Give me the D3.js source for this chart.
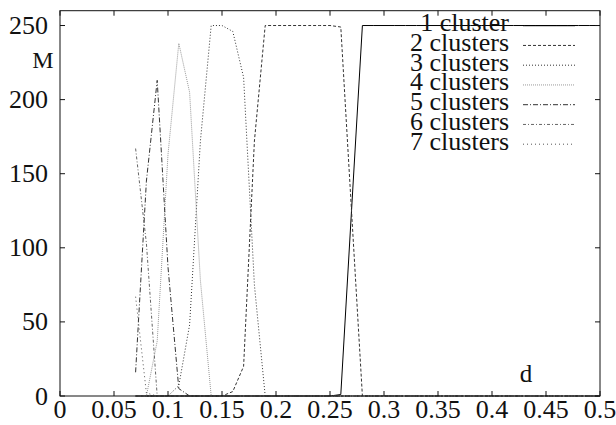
<!DOCTYPE html>
<html><head><meta charset="utf-8">
<script src="https://cdn.jsdelivr.net/npm/d3@7/dist/d3.min.js"></script>
<style>body{margin:0;background:#fff}svg{display:block}</style>
</head><body><svg id="c" width="616" height="425"></svg>
<script>
// ---- data ----
const dValues = [0.07,0.08,0.09,0.10,0.11,0.12,0.13,0.14,0.15,0.16,0.17,0.18,0.19,0.20,0.21,0.22,0.23,0.24,0.25,0.26,0.27,0.28,0.29,0.30,0.31,0.32,0.33,0.34,0.35,0.36,0.37,0.38,0.39,0.40,0.41,0.42,0.43,0.44,0.45,0.46,0.47,0.48,0.49,0.50];
const seriesNames = ["1 cluster","2 clusters","3 clusters","4 clusters","5 clusters","6 clusters","7 clusters"];
const cluster1 = [0,0,0,0,0,0,0,0,0,0,0,0,0,0,0,0,0,0,0,1,126,250,250,250,250,250,250,250,250,250,250,250,250,250,250,250,250,250,250,250,250,250,250,250];
const cluster2 = [0,0,0,0,0,0,0,0,0,3,20,172,250,250,250,250,250,250,250,249,124,0,0,0,0,0,0,0,0,0,0,0,0,0,0,0,0,0,0,0,0,0,0,0];
const cluster3 = [0,0,0,0,7,48,172,250,250,246,215,75,0,0,0,0,0,0,0,0,0,0,0,0,0,0,0,0,0,0,0,0,0,0,0,0,0,0,0,0,0,0,0,0];
const cluster4 = [0,0,37,163,238,205,78,0,0,0,0,0,0,0,0,0,0,0,0,0,0,0,0,0,0,0,0,0,0,0,0,0,0,0,0,0,0,0,0,0,0,0,0,0];
const cluster5 = [16,145,213,87,5,0,0,0,0,0,0,0,0,0,0,0,0,0,0,0,0,0,0,0,0,0,0,0,0,0,0,0,0,0,0,0,0,0,0,0,0,0,0,0];
const cluster6 = [167,103,0,0,0,0,0,0,0,0,0,0,0,0,0,0,0,0,0,0,0,0,0,0,0,0,0,0,0,0,0,0,0,0,0,0,0,0,0,0,0,0,0,0];
const cluster7 = [67,2,0,0,0,0,0,0,0,0,0,0,0,0,0,0,0,0,0,0,0,0,0,0,0,0,0,0,0,0,0,0,0,0,0,0,0,0,0,0,0,0,0,0];
const xTicks = [0,0.05,0.1,0.15,0.2,0.25,0.3,0.35,0.4,0.45,0.5];
const xTickLabels = ["0","0.05","0.1","0.15","0.2","0.25","0.3","0.35","0.4","0.45","0.5"];
const yTicks = [0,50,100,150,200,250];
const yTickLabels = ["0","50","100","150","200","250"];

// ---- styles ----
const FONT = '"Liberation Serif"';
const styles = [
  {color:"#000", dash:null, w:1},
  {color:"#333", dash:"3,2", w:1},
  {color:"#333", dash:"1,2", w:1},
  {color:"#999", dash:"1,1", w:1},
  {color:"#333", dash:"5,2,1,2", w:1},
  {color:"#666", dash:"3,2,1,2", w:1},
  {color:"#555", dash:"1,3", w:1}
];
const allSeries = [cluster1,cluster2,cluster3,cluster4,cluster5,cluster6,cluster7];

const svg = d3.select("#c");
svg.append("rect").attr("width",616).attr("height",425).attr("fill","#fff");
const L = 60, R = 600, T = 10.7, B = 396;
const x = d3.scaleLinear().domain([0,0.5]).range([L,R]);
const y = d3.scaleLinear().domain([0,260]).range([B,T]);

const line = d3.line().x((v,i)=>x(dValues[i])).y(v=>y(v));
allSeries.forEach((s,k)=>{
  svg.append("path").datum(s).attr("d",line).attr("fill","none")
    .attr("stroke",styles[k].color).attr("stroke-width",styles[k].w)
    .attr("stroke-dasharray",styles[k].dash);
});

// border & ticks on top
const g = svg.append("g").attr("stroke","#111").attr("stroke-width",1).attr("fill","none");
g.append("rect").attr("x",L).attr("y",T).attr("width",R-L).attr("height",B-T);
const tl = 5;
xTicks.forEach(t=>{
  g.append("line").attr("x1",x(t)).attr("x2",x(t)).attr("y1",B).attr("y2",B-tl);
  g.append("line").attr("x1",x(t)).attr("x2",x(t)).attr("y1",T).attr("y2",T+tl);
});
yTicks.forEach(t=>{
  g.append("line").attr("x1",L).attr("x2",L+tl).attr("y1",y(t)).attr("y2",y(t));
  g.append("line").attr("x1",R).attr("x2",R-tl).attr("y1",y(t)).attr("y2",y(t));
});
const txt = (sel)=>sel.style("font-family",FONT).attr("fill","#111");
xTicks.forEach((t,i)=>{
  svg.append("text").call(txt).attr("x",x(t)).attr("y",418).attr("text-anchor","middle")
    .attr("font-size",26).text(xTickLabels[i]);
});
yTicks.forEach((t,i)=>{
  svg.append("text").call(txt).attr("x",48).attr("y",y(t)+8.5).attr("text-anchor","end")
    .attr("font-size",26).text(yTickLabels[i]);
});
svg.append("text").call(txt).attr("x",43).attr("y",68).attr("text-anchor","middle").attr("font-size",24).text("M");
svg.append("text").call(txt).attr("x",526).attr("y",382).attr("text-anchor","middle").attr("font-size",25).text("d");

// legend
seriesNames.forEach((n,k)=>{
  const cy = 25.7 + k*19.75;
  svg.append("text").call(txt).attr("x",509).attr("y",cy+5.5).attr("text-anchor","end")
    .attr("font-size",26).text(n);
  svg.append("line").attr("x1",523).attr("x2",575).attr("y1",cy).attr("y2",cy)
    .attr("stroke",styles[k].color).attr("stroke-width",styles[k].w)
    .attr("stroke-dasharray",styles[k].dash);
});
</script></body></html>
